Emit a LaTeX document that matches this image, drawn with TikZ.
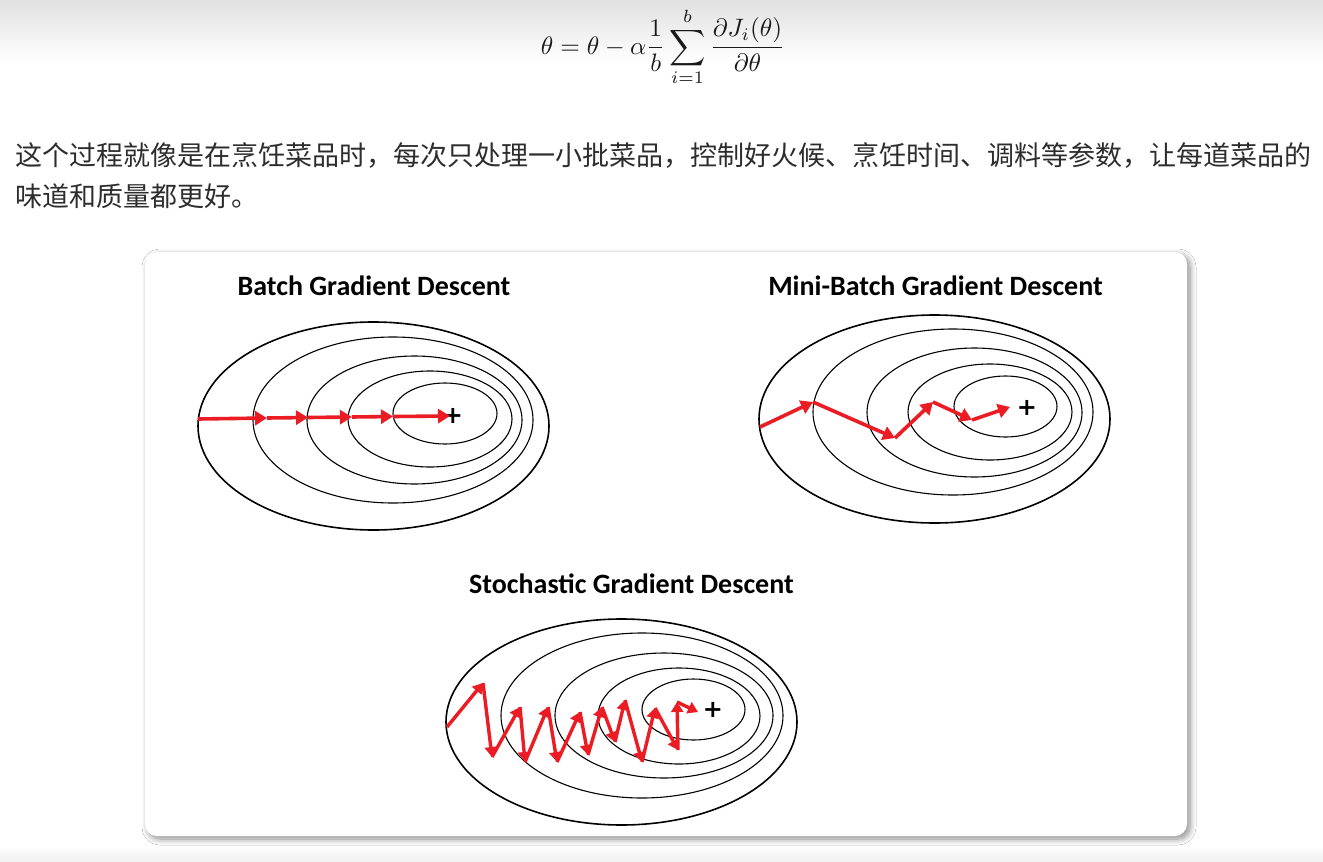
\documentclass[tikz,border=0pt]{standalone}
\usepackage{fontspec}
\newfontfamily\cjk{Noto Sans CJK SC}
\newfontfamily\titlefont{Carlito}
\newfontfamily\plusfont{DejaVu Sans}
\usetikzlibrary{arrows.meta,shadows.blur}
\definecolor{gdred}{RGB}{236,28,36}
\definecolor{txtgray}{RGB}{45,45,45}
\begin{document}
\begin{tikzpicture}[x=1pt,y=-1pt,
  ring/.style={draw=black, line width=1.1pt},
  outerring/.style={draw=black, line width=1.6pt},
  gd/.style={draw=gdred, line width=3.6pt, -{Triangle[length=12pt,width=14pt]}},
  gds/.style={draw=gdred, line width=3.4pt, -{Triangle[length=10pt,width=12pt]}},
  title/.style={font=\titlefont\bfseries\fontsize{28}{28}\selectfont, inner sep=0pt, text=black},
  cjktext/.style={font=\cjk\fontsize{27}{27}\selectfont, inner sep=0pt, anchor=base west, text=txtgray},
  plusmark/.style={font=\plusfont\bfseries\fontsize{24}{24}\selectfont, inner sep=0pt, text=black}]
\useasboundingbox (0,0) rectangle (1323,862);
\fill[white] (0,0) rectangle (1323,862);
\shade[top color=black!12, bottom color=white] (0,0) rectangle (1323,62);
\shade[top color=white, bottom color=black!6] (0,846) rectangle (1323,862);

% formula
\node[scale=2.52, inner sep=0pt, text=black!90] (formula) at (663,47)
  {$\displaystyle \theta=\theta-\alpha\frac{1}{b}\sum_{i=1}^{b}\frac{\partial J_i(\theta)}{\partial\theta}$};

% text
\node[cjktext] (line1) at (15,165) {这个过程就像是在烹饪菜品时，每次只处理一小批菜品，控制好火候、烹饪时间、调料等参数，让每道菜品的};
\node[cjktext] (line2) at (15,206) {味道和质量都更好。};

% card
\fill[white, rounded corners=12pt, blur shadow={shadow xshift=3pt, shadow yshift=-3pt, shadow blur radius=6pt, shadow blur steps=10, shadow opacity=45}]
  (145,252) rectangle (1187,836);

% titles
\node[title] (tbatch) at (374,286) {Batch Gradient Descent};
\node[title] (tmini) at (935.5,286) {Mini-Batch Gradient Descent};
\node[title] (tsgd) at (631.5,584) {Stochastic Gradient Descent};

% Batch contours
\draw[outerring] (373.5,426) ellipse [x radius=175.5, y radius=104];
\draw[ring] (393,420) ellipse [x radius=140, y radius=83];
\draw[ring] (414.5,420) ellipse [x radius=107.5, y radius=64];
\draw[ring] (430,419) ellipse [x radius=82, y radius=48];
\draw[ring] (445,413.5) ellipse [x radius=52, y radius=30.5];
\node[plusmark] (pb) at (453,416) {+};
\coordinate (b0) at (198,419);
\coordinate (b1) at (267,418);
\coordinate (b2) at (308,417.5);
\coordinate (b3) at (352,417);
\coordinate (b4) at (393,416.5);
\coordinate (b5) at (450,416);
\foreach \a/\b in {b0/b1,b1/b2,b2/b3,b3/b4,b4/b5} \draw[gd] (\a) -- (\b);

% Mini-batch contours
\draw[outerring] (934.5,419) ellipse [x radius=175.5, y radius=104];
\draw[ring] (953,412) ellipse [x radius=140, y radius=83];
\draw[ring] (974.5,412.5) ellipse [x radius=107.5, y radius=64.5];
\draw[ring] (990,412) ellipse [x radius=82, y radius=48];
\draw[ring] (1005.5,406.5) ellipse [x radius=51.5, y radius=30.5];
\node[plusmark] (pm) at (1027,408) {+};
\coordinate (m0) at (760,427);
\coordinate (m1) at (813,402);
\coordinate (m2) at (895,438);
\coordinate (m3) at (933,402);
\coordinate (m4) at (972,420);
\coordinate (m5) at (1010,407);
\foreach \a/\b in {m0/m1,m1/m2,m2/m3,m3/m4,m4/m5} \draw[gd] (\a) -- (\b);

% Stochastic contours
\draw[outerring] (621.5,722) ellipse [x radius=175.5, y radius=103];
\draw[ring] (642,715.5) ellipse [x radius=141, y radius=82.5];
\draw[ring] (664,715.5) ellipse [x radius=109, y radius=62.5];
\draw[ring] (679,716) ellipse [x radius=81, y radius=48];
\draw[ring] (693.5,709.5) ellipse [x radius=51.5, y radius=30.5];
\node[plusmark] (ps) at (713,710) {+};
\coordinate (s0) at (447,727);
\coordinate (s1) at (483,683);
\coordinate (s2) at (492,757);
\coordinate (s3) at (520,707);
\coordinate (s4) at (525,762);
\coordinate (s5) at (548,707);
\coordinate (s6) at (557,762);
\coordinate (s7) at (580,712);
\coordinate (s8) at (588,755);
\coordinate (s9) at (602,707);
\coordinate (s10) at (615,742);
\coordinate (s11) at (625,700);
\coordinate (s12) at (642,762);
\coordinate (s13) at (655,708);
\coordinate (s14) at (678,750);
\coordinate (s15) at (677,702);
\coordinate (s16) at (698,712);
\foreach \a/\b in {s0/s1,s1/s2,s2/s3,s3/s4,s4/s5,s5/s6,s6/s7,s7/s8,s8/s9,s9/s10,s10/s11,s11/s12,s12/s13,s13/s14,s14/s15,s15/s16} \draw[gds] (\a) -- (\b);
\end{tikzpicture}
\end{document}
